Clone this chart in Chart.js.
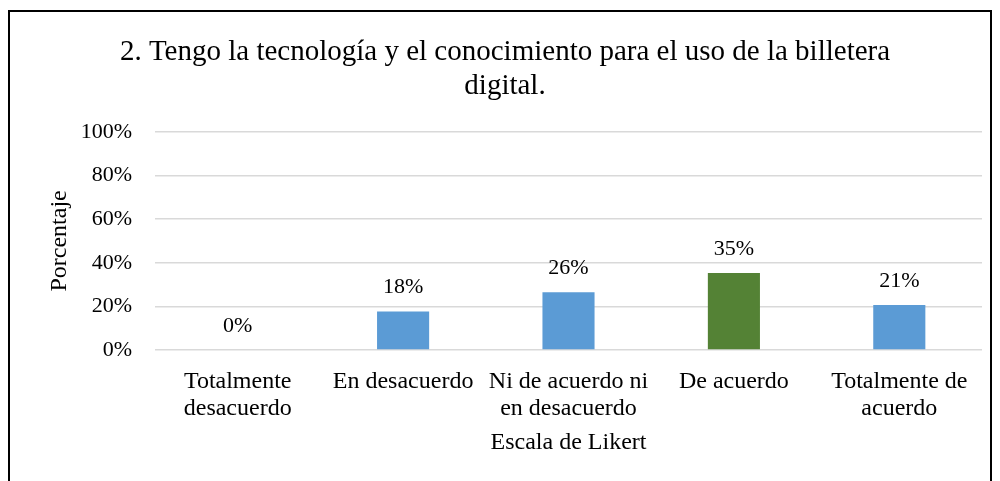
<!DOCTYPE html>
<html>
<head>
<meta charset="utf-8">
<script src="https://cdn.jsdelivr.net/npm/chart.js@4/dist/chart.umd.min.js"></script>
<style>
  html, body { margin: 0; padding: 0; background: #fff; }
  #wrap { position: relative; width: 1000px; height: 481px; overflow: hidden; }
  #frame { position: absolute; left: 8px; top: 10px; width: 980px; height: 520px; border: 2px solid #000; pointer-events: none; }
  canvas { position: absolute; left: 0; top: 0; }
</style>
</head>
<body>
<div id="wrap">
  <canvas id="chart" width="1000" height="481"></canvas>
  <div id="frame"></div>
</div>
<script>
const categorias = [
  ["Totalmente", "desacuerdo"],
  "En desacuerdo",
  ["Ni de acuerdo ni", "en desacuerdo"],
  "De acuerdo",
  ["Totalmente de", "acuerdo"]
];
// porcentajes (n = 34)
const porcentajes = [0, 17.65, 26.47, 35.29, 20.59];
const colores = ["#5B9BD5", "#5B9BD5", "#5B9BD5", "#548235", "#5B9BD5"];
const ticksY = [0, 20, 40, 60, 80, 100];

const serif = "'Liberation Serif', 'Times New Roman', serif";

// etiquetas encima de las barras
const etiquetas = {
  id: "etiquetas",
  afterDatasetsDraw(chart) {
    const ctx = chart.ctx;
    const meta = chart.getDatasetMeta(0);
    ctx.save();
    ctx.font = "22px " + serif;
    ctx.fillStyle = "#000";
    ctx.textAlign = "center";
    ctx.textBaseline = "middle";
    meta.data.forEach((bar, i) => {
      ctx.fillText(Math.round(porcentajes[i]) + "%", bar.x, bar.y - 24);
    });
    ctx.restore();
  }
};

new Chart(document.getElementById("chart").getContext("2d"), {
  type: "bar",
  data: {
    labels: categorias,
    datasets: [{
      data: porcentajes,
      backgroundColor: colores,
      borderWidth: 0,
      categoryPercentage: 1,
      barPercentage: 0.315
    }]
  },
  options: {
    responsive: false,
    animation: false,
    layout: { padding: { left: 28, right: 18, top: 0, bottom: 0 } },
    plugins: {
      legend: { display: false },
      tooltip: { enabled: false },
      title: {
        display: true,
        text: ["2. Tengo la tecnología y el conocimiento para el uso de la billetera", "digital."],
        color: "#000",
        font: { family: serif, size: 29, weight: "normal", lineHeight: 1.17 },
        padding: { top: 35, bottom: 29 }
      }
    },
    scales: {
      x: {
        grid: { display: false, drawTicks: false },
        border: { display: false },
        ticks: {
          color: "#000",
          font: { family: serif, size: 24, lineHeight: 1.1 },
          padding: 19,
          maxRotation: 0,
          autoSkip: false
        },
        title: {
          display: true,
          text: "Escala de Likert",
          color: "#000",
          font: { family: serif, size: 24 },
          padding: { top: 0, bottom: 24 }
        },
        afterFit(scale) { scale.height = 131; }
      },
      y: {
        min: 0,
        max: 100,
        afterBuildTicks(scale) { scale.ticks = ticksY.map(v => ({ value: v })); },
        grid: { color: "#d9d9d9", lineWidth: 1.5, drawTicks: false },
        border: { display: false },
        ticks: {
          color: "#000",
          font: { family: serif, size: 22 },
          padding: 23,
          callback: v => v + "%"
        },
        title: {
          display: true,
          text: "Porcentaje",
          color: "#000",
          font: { family: serif, size: 24 },
          padding: { top: 17, bottom: 0 }
        },
        afterFit(scale) { scale.width = 127; }
      }
    }
  },
  plugins: [etiquetas]
});
</script>
</body>
</html>
